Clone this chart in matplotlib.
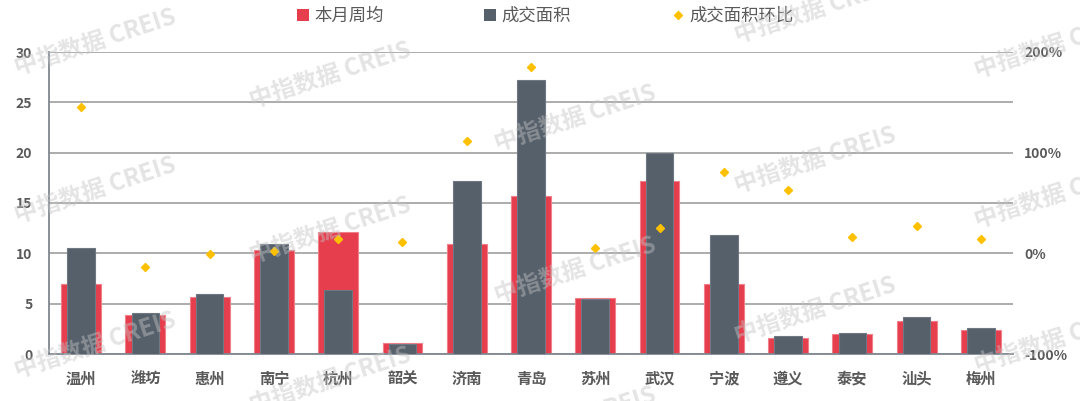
import matplotlib
matplotlib.use("Agg")
import matplotlib.pyplot as plt
from matplotlib.patches import Patch
from matplotlib.lines import Line2D

plt.rcParams['font.family'] = ['Noto Sans CJK SC', 'DejaVu Sans']

cities = ["温州", "潍坊", "惠州", "南宁", "杭州", "韶关", "济南", "青岛",
          "苏州", "武汉", "宁波", "遵义", "泰安", "汕头", "梅州"]
weekly_avg = [7.0, 3.9, 5.7, 10.3, 12.15, 1.1, 10.9, 15.7, 5.6, 17.2, 7.0, 1.55, 1.95, 3.3, 2.35]
deal_area = [10.5, 4.05, 6.0, 10.9, 6.4, 0.95, 17.2, 27.2, 5.5, 20.0, 11.8, 1.8, 2.1, 3.65, 2.55]
area_mom = [145.6, -13.3, -0.4, 1.9, 14.5, 10.8, 111.8, 185.0, 4.9, 24.7, 80.8, 63.0, 16.2, 27.4, 14.5]

left_ticks = [0, 5, 10, 15, 20, 25, 30]
right_ticks = [-100, 0, 100, 200]
right_labels = ["-100%", "0%", "100%", "200%"]

RED = "#E63E4D"
DARK = "#56606B"
GOLD = "#FFC000"
TXT = "#595959"

fig = plt.figure(figsize=(10.8, 4.01), dpi=100)
ax = fig.add_axes([49 / 1080, 1 - 354 / 401, 964 / 1080, 302 / 401])
x = list(range(len(cities)))

ax.bar(x, weekly_avg, width=0.62, color=RED, edgecolor="#F07F89", linewidth=0.8, zorder=2)
ax.bar(x, deal_area, width=0.43, color=DARK, edgecolor="#6E7782", linewidth=0.8, zorder=3)

ax.set_xlim(-0.5, len(cities) - 0.5)
ax.set_ylim(0, 30)
ax.set_yticks(left_ticks)
ax.set_xticks(x)
ax.set_xticklabels(cities)
ax.yaxis.grid(True, color="#A6A6A6", linewidth=1.3)
ax.set_axisbelow(True)
for s in ["top", "right"]:
    ax.spines[s].set_visible(False)
ax.spines["left"].set_color("#7F8790")
ax.spines["left"].set_linewidth(1.3)
ax.spines["bottom"].set_color("#7F8790")
ax.spines["bottom"].set_linewidth(1.3)
ax.tick_params(axis="y", length=0, pad=12, labelsize=10, labelcolor=TXT)
ax.tick_params(axis="x", length=0, pad=12, labelsize=11, labelcolor=TXT)
for lab in ax.get_yticklabels() + ax.get_xticklabels():
    lab.set_fontweight("bold")

ax2 = ax.twinx()
ax2.plot(x, area_mom, linestyle="none", marker="D", markersize=4, color=GOLD, zorder=5)
ax2.set_ylim(-100, 200)
ax2.set_yticks(right_ticks)
ax2.set_yticklabels(right_labels)
for s in ["top", "right", "left", "bottom"]:
    ax2.spines[s].set_visible(False)
ax2.tick_params(axis="y", length=0, pad=8, labelsize=10, labelcolor=TXT)
for lab in ax2.get_yticklabels():
    lab.set_fontweight("bold")

handles = [
    Patch(facecolor=RED, edgecolor="none"),
    Patch(facecolor=DARK, edgecolor="none"),
    Line2D([], [], linestyle="none", marker="D", markersize=4, color=GOLD),
]
fig.legend(handles, ["本月周均", "成交面积", "成交面积环比"], loc="center",
           bbox_to_anchor=(545 / 1080, 1 - 16 / 401), ncol=3, frameon=False,
           fontsize=12.5, labelcolor=TXT, handlelength=0.7, handleheight=0.7,
           handletextpad=0.3, columnspacing=5.8)

# watermark
marks = [(95, 42), (95, 190), (95, 345),
         (330, 75), (330, 230), (330, 380),
         (575, 118), (575, 270), (575, 420),
         (815, 10), (815, 160), (815, 310),
         (1055, 45), (1055, 195), (1055, 340)]
for mx, my in marks:
    fig.text(mx / 1080, 1 - my / 401, "中指数据 CREIS", fontsize=17, fontweight="bold",
             color="#C4C4C4", alpha=0.45, rotation=18, ha="center", va="center", zorder=10)

fig.savefig("out.png", dpi=100)
